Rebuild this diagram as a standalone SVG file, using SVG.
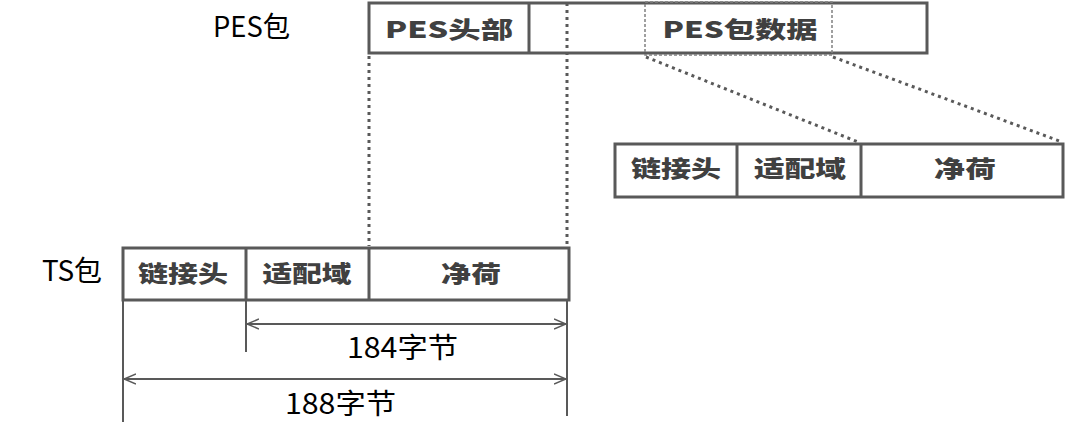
<svg xmlns="http://www.w3.org/2000/svg" width="1065" height="431" viewBox="0 0 1065 431">
<style>
.box{fill:#fff;stroke:#595959;stroke-width:3}
.div{stroke:#595959;stroke-width:3}
.bt{font-family:"Noto Sans CJK SC","Noto Sans",sans-serif;font-weight:900;font-size:23px;fill:#404040;text-anchor:middle;dominant-baseline:central}
.lbl{font-family:"Noto Sans CJK SC","Noto Sans",sans-serif;font-size:28px;fill:#000}
.dot{stroke:#595959;stroke-width:3;stroke-dasharray:3 4;fill:none}
.fine{stroke:#808080;stroke-width:1.5;stroke-dasharray:3 2;fill:none}
.dim{stroke:#595959;stroke-width:2;fill:none}
.arr{stroke:#595959;stroke-width:2;fill:none;marker-start:url(#ah);marker-end:url(#ah)}
</style>
<defs>
<marker id="ah" viewBox="0 0 12 12" refX="12" refY="6" markerWidth="12" markerHeight="12" markerUnits="userSpaceOnUse" orient="auto-start-reverse">
<path d="M0,1 L12,6 L0,11" fill="none" stroke="#595959" stroke-width="1.5"/>
</marker>
</defs>
<text class="lbl" x="213" y="37" textLength="77" lengthAdjust="spacingAndGlyphs">PES包</text>
<text class="lbl" x="42" y="281" textLength="60" lengthAdjust="spacingAndGlyphs">TS包</text>
<g id="pes">
<rect class="box" x="369" y="3" width="558" height="50"/>
<line class="div" x1="529" y1="3" x2="529" y2="53"/>
<text class="bt" x="449" y="28" textLength="128" lengthAdjust="spacingAndGlyphs">PES头部</text>
<rect class="fine" x="645" y="2" width="187" height="53"/>
<text class="bt" x="740" y="28" textLength="155" lengthAdjust="spacingAndGlyphs">PES包数据</text>
</g>
<g id="mid">
<rect class="box" x="615" y="144" width="448" height="53"/>
<line class="div" x1="737" y1="144" x2="737" y2="197"/>
<line class="div" x1="861" y1="144" x2="861" y2="197"/>
<text class="bt" x="676" y="167" textLength="90" lengthAdjust="spacingAndGlyphs">链接头</text>
<text class="bt" x="800" y="167" textLength="92" lengthAdjust="spacingAndGlyphs">适配域</text>
<text class="bt" x="965" y="167" textLength="62" lengthAdjust="spacingAndGlyphs">净荷</text>
</g>
<g id="ts">
<rect class="box" x="123" y="248" width="446" height="52"/>
<line class="div" x1="246" y1="248" x2="246" y2="300"/>
<line class="div" x1="369" y1="248" x2="369" y2="300"/>
<text class="bt" x="183" y="272" textLength="90" lengthAdjust="spacingAndGlyphs">链接头</text>
<text class="bt" x="307" y="272" textLength="89" lengthAdjust="spacingAndGlyphs">适配域</text>
<text class="bt" x="471" y="272" textLength="60" lengthAdjust="spacingAndGlyphs">净荷</text>
</g>
<g id="connectors">
<line class="dot" x1="369" y1="56" x2="369" y2="246"/>
<line class="dot" x1="567" y1="3" x2="567" y2="246"/>
<line class="dot" x1="646" y1="57" x2="858" y2="142"/>
<line class="dot" x1="833" y1="57" x2="1062" y2="142"/>
<line class="dim" x1="123" y1="300" x2="123" y2="422"/>
<line class="dim" x1="246" y1="300" x2="246" y2="352"/>
<line class="dim" x1="567" y1="300" x2="567" y2="416"/>
<line class="arr" x1="247" y1="324" x2="566" y2="324"/>
<line class="arr" x1="124" y1="379" x2="566" y2="379"/>
</g>
<text class="lbl" x="347" y="358" textLength="111" lengthAdjust="spacingAndGlyphs">184字节</text>
<text class="lbl" x="285" y="414" textLength="111" lengthAdjust="spacingAndGlyphs">188字节</text>
</svg>
